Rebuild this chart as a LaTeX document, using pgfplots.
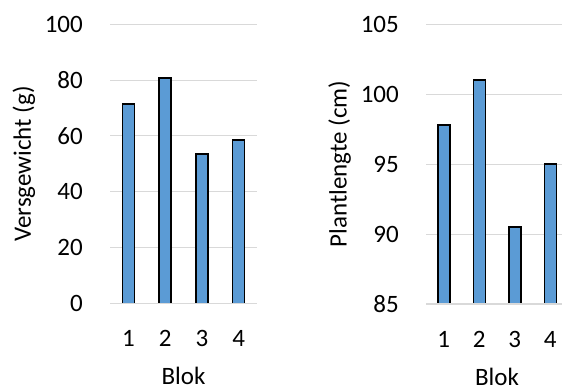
\documentclass[border=0pt]{standalone}
\usepackage{fontspec}
\setmainfont{Carlito}
\usepackage{pgfplots}
\pgfplotsset{compat=1.18}
\definecolor{barblue}{HTML}{5B9BD5}
\definecolor{gridgray}{HTML}{D9D9D9}
\pgfplotsset{
  mystyle/.style={
    scale only axis,
    anchor=south west,
    ybar, bar width=12pt,
    xmin=0.5, xmax=4.5,
    xtick={1,2,3,4},
    axis line style={draw=none},
    major tick length=0pt,
    ymajorgrids, grid style={gridgray, line width=1pt},
    /pgf/number format/assume math mode=true,
    tick label style={font=\fontsize{25}{30}\selectfont, inner sep=0pt},
    label style={font=\fontsize{25}{30}\selectfont, inner sep=0pt},
    yticklabel style={anchor=east, xshift=-27pt},
    xticklabel style={anchor=north, yshift=-27pt},
    xlabel={Blok},
    xlabel style={at={(axis description cs:0.5,-0.292)}, anchor=base},
  }
}
\begin{document}
\begin{tikzpicture}[x=1pt,y=1pt]
\clip (0,0) rectangle (562,389);
\begin{axis}[mystyle,
  at={(110pt,85.7pt)}, width=147pt, height=279pt,
  ymin=0, ymax=100, ytick={0,20,40,60,80,100},
  ylabel={Versgewicht (g)},
  ylabel style={at={(axis description cs:-0.585,0.5)}, anchor=center},
]
\addplot[fill=barblue, draw=black, line width=1.5pt] coordinates {(1,71.5) (2,80.7) (3,53.5) (4,58.6)};
\addplot[sharp plot, gridgray, line width=1.6pt, forget plot] coordinates {(0.5,0) (4.5,0)};
\end{axis}
\begin{axis}[mystyle,
  at={(426pt,85pt)}, width=142pt, height=280pt,
  ymin=85, ymax=105, ytick={85,90,95,100,105},
  ylabel={Plantlengte (cm)},
  ylabel style={at={(axis description cs:-0.609,0.5)}, anchor=center},
]
\addplot[fill=barblue, draw=black, line width=1.5pt] coordinates {(1,97.8) (2,101.0) (3,90.5) (4,95.0)};
\addplot[sharp plot, gridgray, line width=1.6pt, forget plot] coordinates {(0.5,85) (4.5,85)};
\end{axis}
\end{tikzpicture}
\end{document}
